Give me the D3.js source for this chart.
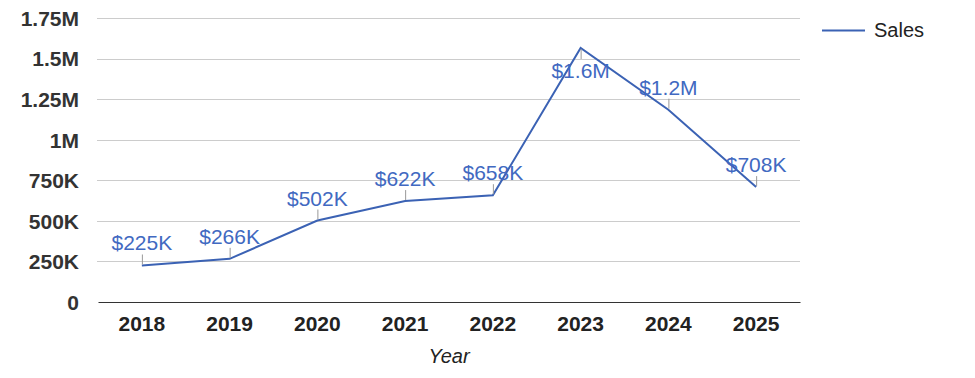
<!DOCTYPE html>
<html><head><meta charset="utf-8">
<script src="https://cdn.jsdelivr.net/npm/d3@7"></script>
<style>body{margin:0;background:#fff}svg{display:block}</style>
</head><body>
<svg id="c" width="975" height="378"></svg>
<script>
const years = ["2018","2019","2020","2021","2022","2023","2024","2025"];
const sales = [225000,266000,502000,622000,658000,1565000,1185000,708000];
const salesLabels = ["$225K","$266K","$502K","$622K","$658K","$1.6M","$1.2M","$708K"];
const yTicks = [0,250000,500000,750000,1000000,1250000,1500000,1750000];
const yTickLabels = ["0","250K","500K","750K","1M","1.25M","1.5M","1.75M"];
const labelBelow = [false,false,false,false,false,true,false,false];
const seriesName = "Sales";
const xTitle = "Year";

const svg = d3.select("#c");
const m = {left:98, right:175, top:18, bottom:76};
const W = 975, H = 378;
const x = d3.scaleBand().domain(years).range([m.left, W-m.right]);
const y = d3.scaleLinear().domain([0,1750000]).range([H-m.bottom, m.top]);
const lineColor = "#3b62b4", labelColor = "#4169c1";

// gridlines
svg.append("g").selectAll("line").data(yTicks.filter(d=>d>0)).join("line")
  .attr("x1", m.left-1).attr("x2", W-m.right)
  .attr("y1", d=>Math.round(y(d))+0.5).attr("y2", d=>Math.round(y(d))+0.5)
  .attr("stroke","#cccccc").attr("stroke-width",1);

// y axis
const yAxis = d3.axisLeft(y).tickValues(yTicks).tickSize(0).tickPadding(0)
  .tickFormat((d,i)=>yTickLabels[i]);
const ga = svg.append("g").attr("transform",`translate(${m.left-19},0)`).call(yAxis);
ga.select(".domain").remove();
ga.selectAll("text").attr("font-family","Liberation Sans, Arial, sans-serif")
  .attr("font-size",21).attr("font-weight","bold").attr("fill","#333").attr("dy","0.35em");

// x axis
const xAxis = d3.axisBottom(x).tickSize(0).tickPadding(0);
const gx = svg.append("g").attr("transform",`translate(0,${H-m.bottom})`).call(xAxis);
gx.select(".domain").attr("stroke","#333").attr("stroke-width",1.2);
gx.selectAll("text").attr("font-family","Liberation Sans, Arial, sans-serif")
  .attr("font-size",21).attr("font-weight","bold").attr("fill","#222").attr("dy","0").attr("y",29);

svg.append("text").attr("x",(m.left+W-m.right)/2).attr("y",363)
  .attr("text-anchor","middle").attr("font-family","Liberation Sans, Arial, sans-serif")
  .attr("font-size",20).attr("font-style","italic").attr("fill","#222").text(xTitle);

// line
const cx = d=>x(d)+x.bandwidth()/2;
const line = d3.line().x((d,i)=>cx(years[i])).y(d=>y(d));
svg.append("path").datum(sales).attr("d",line).attr("fill","none")
  .attr("stroke",lineColor).attr("stroke-width",2);

// data labels with leader ticks
const lg = svg.append("g");
sales.forEach((v,i)=>{
  const px = cx(years[i]), py = y(v);
  const below = labelBelow[i];
  lg.append("line").attr("x1",px+0.5).attr("x2",px+0.5)
    .attr("y1", below? py+1 : py-1).attr("y2", below? py+11 : py-11)
    .attr("stroke","#999").attr("stroke-width",1);
  lg.append("text").attr("x",px).attr("y", below? py+30 : py-15)
    .attr("text-anchor","middle").attr("font-family","Liberation Sans, Arial, sans-serif")
    .attr("font-size",21).attr("fill",labelColor).text(salesLabels[i]);
});

// legend
svg.append("line").attr("x1",822).attr("x2",865).attr("y1",30.5).attr("y2",30.5)
  .attr("stroke",lineColor).attr("stroke-width",2);
svg.append("text").attr("x",874).attr("y",37).attr("font-family","Liberation Sans, Arial, sans-serif")
  .attr("font-size",20).attr("fill","#222").text(seriesName);
</script>
</body></html>
